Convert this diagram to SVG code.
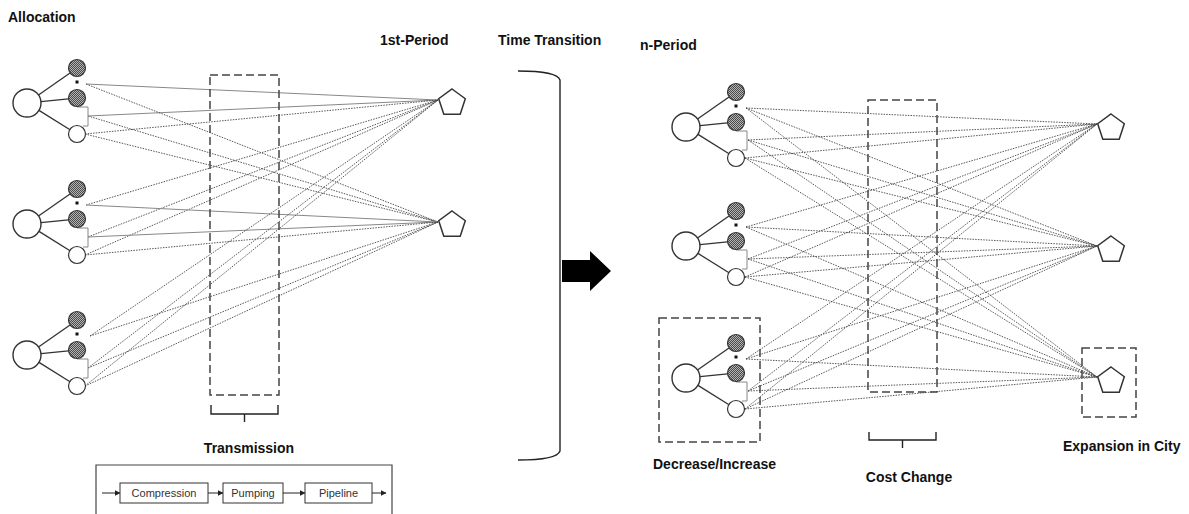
<svg xmlns="http://www.w3.org/2000/svg" width="1189" height="514" viewBox="0 0 1189 514">
<defs>
<pattern id="chk" width="2" height="2" patternUnits="userSpaceOnUse">
<rect width="2" height="2" fill="#b4b4b4"/>
<rect width="1" height="1" fill="#4a4a4a"/>
<rect x="1" y="1" width="1" height="1" fill="#4a4a4a"/>
</pattern>
<marker id="ah" viewBox="0 0 6 6" refX="5.5" refY="3" markerWidth="6" markerHeight="6" orient="auto" markerUnits="userSpaceOnUse">
<path d="M0,0 L6,3 L0,6 Z" fill="#222"/>
</marker>
</defs>
<style>
.t{font-family:"Liberation Sans",Arial,sans-serif;font-weight:bold;font-size:14px;fill:#111}
.s{font-family:"Liberation Sans",Arial,sans-serif;font-size:11px;fill:#333}
.big{fill:#fff;stroke:#333;stroke-width:1.4}
.sh{fill:url(#chk);stroke:#333;stroke-width:1.2}
.wh{fill:#fff;stroke:#333;stroke-width:1.2}
.lk{stroke:#333;stroke-width:1.3;fill:none}
.br{stroke:#888;stroke-width:1;fill:none}
.pt{fill:#fff;stroke:#333;stroke-width:1.5}
.dbox{fill:none;stroke:#444;stroke-width:1.5;stroke-dasharray:8 4}
.c{stroke:#888;stroke-width:1;fill:none}
.d{stroke:#444;stroke-width:0.9;fill:none;stroke-dasharray:1.5 1.2}
.k{stroke:#222;stroke-width:1.4;fill:none}
.lb{fill:#fff;stroke:#333;stroke-width:1}
</style>

<!-- titles -->
<text class="t" x="8" y="22">Allocation</text>
<text class="t" x="380" y="45">1st-Period</text>
<text class="t" x="498" y="45">Time Transition</text>
<text class="t" x="640" y="50">n-Period</text>

<!-- connectors -->
<g id="connectors">
<!-- left cluster 1 (Y=103) -->
<line class="c" x1="86" y1="84" x2="438" y2="100"/>
<line class="c" x1="88" y1="116" x2="438" y2="100"/>
<line class="d" x1="85" y1="134" x2="438" y2="100"/>
<line class="d" x1="86" y1="84" x2="438" y2="222"/>
<line class="d" x1="88" y1="116" x2="438" y2="222"/>
<line class="d" x1="85" y1="134" x2="438" y2="222"/>
<!-- left cluster 2 (Y=224) -->
<line class="d" x1="86" y1="205" x2="438" y2="100"/>
<line class="d" x1="88" y1="237" x2="438" y2="100"/>
<line class="d" x1="85" y1="255" x2="438" y2="100"/>
<line class="c" x1="86" y1="205" x2="438" y2="222"/>
<line class="c" x1="88" y1="237" x2="438" y2="222"/>
<line class="d" x1="85" y1="255" x2="438" y2="222"/>
<!-- left cluster 3 (Y=355) -->
<line class="d" x1="90" y1="336" x2="438" y2="100"/>
<line class="d" x1="88" y1="368" x2="438" y2="100"/>
<line class="d" x1="85" y1="386" x2="438" y2="100"/>
<line class="d" x1="90" y1="336" x2="438" y2="222"/>
<line class="d" x1="88" y1="368" x2="438" y2="222"/>
<line class="d" x1="85" y1="386" x2="438" y2="222"/>
<!-- right cluster 1 (Y=127) -->
<line class="d" x1="746" y1="108" x2="1097" y2="124"/>
<line class="d" x1="748" y1="140" x2="1097" y2="124"/>
<line class="d" x1="745" y1="158" x2="1097" y2="124"/>
<line class="d" x1="746" y1="108" x2="1097" y2="246"/>
<line class="d" x1="748" y1="140" x2="1097" y2="246"/>
<line class="d" x1="745" y1="158" x2="1097" y2="246"/>
<line class="d" x1="746" y1="108" x2="1097" y2="377"/>
<line class="d" x1="748" y1="140" x2="1097" y2="377"/>
<line class="d" x1="745" y1="158" x2="1097" y2="377"/>
<!-- right cluster 2 (Y=246) -->
<line class="d" x1="746" y1="227" x2="1097" y2="124"/>
<line class="d" x1="748" y1="259" x2="1097" y2="124"/>
<line class="d" x1="745" y1="277" x2="1097" y2="124"/>
<line class="d" x1="746" y1="227" x2="1097" y2="246"/>
<line class="d" x1="748" y1="259" x2="1097" y2="246"/>
<line class="d" x1="745" y1="277" x2="1097" y2="246"/>
<line class="d" x1="746" y1="227" x2="1097" y2="377"/>
<line class="d" x1="748" y1="259" x2="1097" y2="377"/>
<line class="d" x1="745" y1="277" x2="1097" y2="377"/>
<!-- right cluster 3 (Y=378) -->
<line class="d" x1="746" y1="359" x2="1097" y2="124"/>
<line class="d" x1="748" y1="391" x2="1097" y2="124"/>
<line class="d" x1="745" y1="409" x2="1097" y2="124"/>
<line class="d" x1="746" y1="359" x2="1097" y2="246"/>
<line class="d" x1="748" y1="391" x2="1097" y2="246"/>
<line class="d" x1="745" y1="409" x2="1097" y2="246"/>
<line class="d" x1="746" y1="359" x2="1097" y2="377"/>
<line class="d" x1="748" y1="391" x2="1097" y2="377"/>
<line class="d" x1="745" y1="409" x2="1097" y2="377"/>
</g>

<!-- left clusters -->
<g id="L1" transform="translate(0,103)">
<line class="lk" x1="38.5" y1="-8" x2="70" y2="-30"/>
<line class="lk" x1="41" y1="-1.4" x2="68.5" y2="-4.2"/>
<line class="lk" x1="39" y1="7.4" x2="70" y2="26.8"/>
<path class="br" d="M77,4 H88 V23 H83"/>
<circle class="big" cx="27" cy="0" r="14"/>
<circle class="sh" cx="77" cy="-35" r="8.5"/>
<rect x="75.5" y="-22.5" width="3" height="3" fill="#111"/>
<circle class="sh" cx="77" cy="-5" r="8.5"/>
<circle class="wh" cx="77" cy="31" r="8.5"/>
</g>
<g id="L2" transform="translate(0,224)">
<line class="lk" x1="38.5" y1="-8" x2="70" y2="-30"/>
<line class="lk" x1="41" y1="-1.4" x2="68.5" y2="-4.2"/>
<line class="lk" x1="39" y1="7.4" x2="70" y2="26.8"/>
<path class="br" d="M77,4 H88 V23 H83"/>
<circle class="big" cx="27" cy="0" r="14"/>
<circle class="sh" cx="77" cy="-35" r="8.5"/>
<rect x="75.5" y="-22.5" width="3" height="3" fill="#111"/>
<circle class="sh" cx="77" cy="-5" r="8.5"/>
<circle class="wh" cx="77" cy="31" r="8.5"/>
</g>
<g id="L3" transform="translate(0,355)">
<line class="lk" x1="38.5" y1="-8" x2="70" y2="-30"/>
<line class="lk" x1="41" y1="-1.4" x2="68.5" y2="-4.2"/>
<line class="lk" x1="39" y1="7.4" x2="70" y2="26.8"/>
<path class="br" d="M77,4 H88 V23 H83"/>
<circle class="big" cx="27" cy="0" r="14"/>
<circle class="sh" cx="77" cy="-35" r="8.5"/>
<rect x="75.5" y="-22.5" width="3" height="3" fill="#111"/>
<circle class="sh" cx="77" cy="-5" r="8.5"/>
<circle class="wh" cx="77" cy="31" r="8.5"/>
</g>

<!-- right clusters -->
<g id="R1" transform="translate(659,127)">
<line class="lk" x1="38.5" y1="-8" x2="70" y2="-30"/>
<line class="lk" x1="41" y1="-1.4" x2="68.5" y2="-4.2"/>
<line class="lk" x1="39" y1="7.4" x2="70" y2="26.8"/>
<path class="br" d="M77,4 H88 V23 H83"/>
<circle class="big" cx="27" cy="0" r="14"/>
<circle class="sh" cx="77" cy="-35" r="8.5"/>
<rect x="75.5" y="-22.5" width="3" height="3" fill="#111"/>
<circle class="sh" cx="77" cy="-5" r="8.5"/>
<circle class="wh" cx="77" cy="31" r="8.5"/>
</g>
<g id="R2" transform="translate(659,246)">
<line class="lk" x1="38.5" y1="-8" x2="70" y2="-30"/>
<line class="lk" x1="41" y1="-1.4" x2="68.5" y2="-4.2"/>
<line class="lk" x1="39" y1="7.4" x2="70" y2="26.8"/>
<path class="br" d="M77,4 H88 V23 H83"/>
<circle class="big" cx="27" cy="0" r="14"/>
<circle class="sh" cx="77" cy="-35" r="8.5"/>
<rect x="75.5" y="-22.5" width="3" height="3" fill="#111"/>
<circle class="sh" cx="77" cy="-5" r="8.5"/>
<circle class="wh" cx="77" cy="31" r="8.5"/>
</g>
<g id="R3" transform="translate(659,378)">
<line class="lk" x1="38.5" y1="-8" x2="70" y2="-30"/>
<line class="lk" x1="41" y1="-1.4" x2="68.5" y2="-4.2"/>
<line class="lk" x1="39" y1="7.4" x2="70" y2="26.8"/>
<path class="br" d="M77,4 H88 V23 H83"/>
<circle class="big" cx="27" cy="0" r="14"/>
<circle class="sh" cx="77" cy="-35" r="8.5"/>
<rect x="75.5" y="-22.5" width="3" height="3" fill="#111"/>
<circle class="sh" cx="77" cy="-5" r="8.5"/>
<circle class="wh" cx="77" cy="31" r="8.5"/>
</g>

<!-- pentagons -->
<g id="P1"><polygon class="pt" points="452,89 465.3,98.7 460.2,114.3 443.8,114.3 438.7,98.7"/></g>
<g id="P2"><polygon class="pt" points="452,211 465.3,220.7 460.2,236.3 443.8,236.3 438.7,220.7"/></g>
<g id="Q1"><polygon class="pt" points="1111,114 1124.3,123.7 1119.2,139.3 1102.8,139.3 1097.7,123.7"/></g>
<g id="Q2"><polygon class="pt" points="1111,236 1124.3,245.7 1119.2,261.3 1102.8,261.3 1097.7,245.7"/></g>
<g id="Q3"><polygon class="pt" points="1111,367 1124.3,376.7 1119.2,392.3 1102.8,392.3 1097.7,376.7"/></g>

<!-- transmission box and brace -->
<g id="transmission">
<rect class="dbox" x="210" y="75" width="69" height="320"/>
<path class="k" d="M211,405 V414 H278 V405 M244.5,414 V422" stroke-width="1"/>
<text class="t" x="249" y="453" text-anchor="middle">Transmission</text>
</g>

<!-- legend -->
<g id="legend">
<path d="M96,514 V465 H392 V514" fill="none" stroke="#444" stroke-width="1.2"/>
<line x1="102" y1="493" x2="120" y2="493" stroke="#222" stroke-width="1" marker-end="url(#ah)"/>
<rect class="lb" x="120" y="483" width="88" height="20"/>
<text class="s" x="164" y="497" text-anchor="middle">Compression</text>
<line x1="208" y1="493" x2="223" y2="493" stroke="#222" stroke-width="1" marker-end="url(#ah)"/>
<rect class="lb" x="223" y="483" width="60" height="20"/>
<text class="s" x="253" y="497" text-anchor="middle">Pumping</text>
<line x1="283" y1="493" x2="305" y2="493" stroke="#222" stroke-width="1" marker-end="url(#ah)"/>
<rect class="lb" x="305" y="483" width="67" height="20"/>
<text class="s" x="338.5" y="497" text-anchor="middle">Pipeline</text>
<line x1="372" y1="493" x2="386" y2="493" stroke="#222" stroke-width="1" marker-end="url(#ah)"/>
</g>

<!-- time transition brace and arrow -->
<g id="transition">
<path class="k" d="M518,71 Q557,71 560,80 V451 Q557,460 518,460"/>
<polygon points="562,260 590,260 590,251 611,271 590,291 590,282 562,282" fill="#000"/>
</g>

<!-- right dashed boxes -->
<g id="decrease">
<rect class="dbox" x="659" y="318" width="101" height="124"/>
<text class="t" x="653" y="469">Decrease/Increase</text>
</g>
<g id="cost">
<rect class="dbox" x="868" y="100" width="69" height="292"/>
<path class="k" d="M869,432 V440 H936 V432 M902.5,440 V448" stroke-width="1"/>
<text class="t" x="909" y="482" text-anchor="middle">Cost Change</text>
</g>
<g id="expansion">
<rect class="dbox" x="1082" y="348" width="54" height="69"/>
<text class="t" x="1063" y="451">Expansion in City</text>
</g>
</svg>
